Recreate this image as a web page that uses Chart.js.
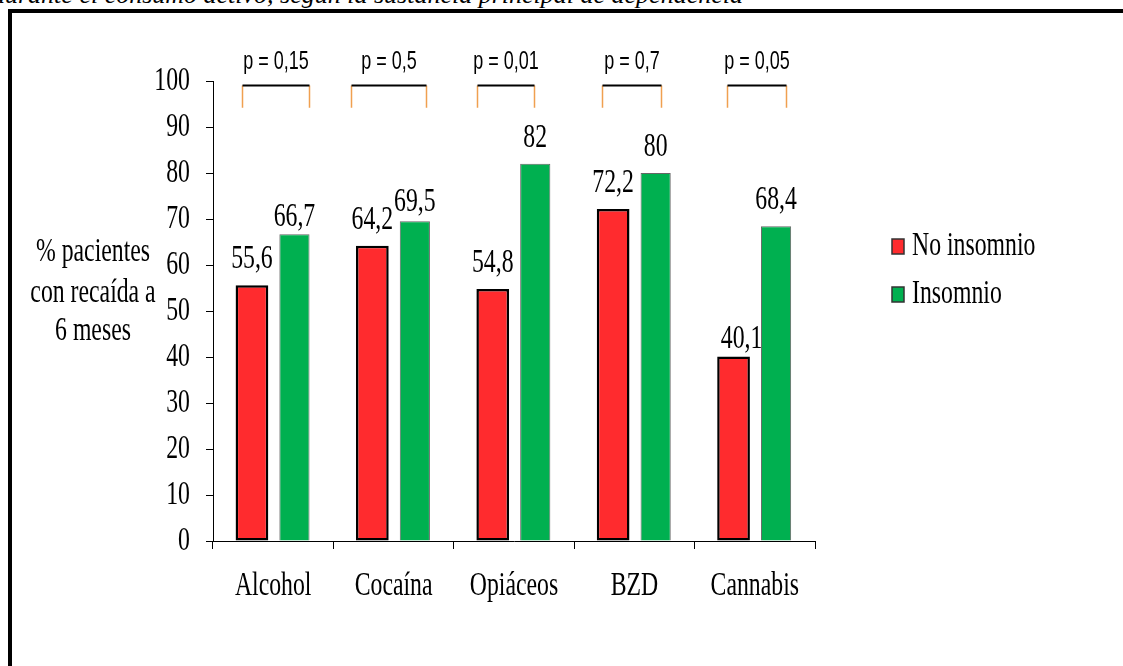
<!DOCTYPE html>
<html>
<head>
<meta charset="utf-8">
<script src="https://cdn.jsdelivr.net/npm/chart.js@4.4.1/dist/chart.umd.min.js"></script>
<style>
  body { margin: 0; width: 1123px; height: 666px; overflow: hidden; background: #fff; position: relative; }
  #caption { position: absolute; left: -8px; top: -20px; white-space: nowrap;
    font: italic 26px "Liberation Serif", serif; color: #000; }
  #frame { position: absolute; left: 8px; top: 9px; width: 1200px; height: 800px; border: 4px solid #000; }
  #chart { position: absolute; left: 0; top: 0; }
</style>
</head>
<body>
<div id="caption">durante el consumo activo, según la sustancia principal de dependencia</div>
<div id="frame"></div>
<canvas id="chart" width="1123" height="666"></canvas>
<script>
// categories and series
var categories = ["Alcohol", "Cocaína", "Opiáceos", "BZD", "Cannabis"];
var noInsomnio = [55.6, 64.2, 54.8, 72.2, 40.1];
var insomnio = [66.7, 69.5, 82, 80, 68.4];
var pValues = ["p = 0,15", "p = 0,5", "p = 0,01", "p = 0,7", "p = 0,05"];
var yTicks = [0, 10, 20, 30, 40, 50, 60, 70, 80, 90, 100];

// bracket ends over each pair, in category units from the category centre
var bracketLeft = [-0.26, -0.35, -0.31, -0.27, -0.23];
var bracketRight = [0.30, 0.27, 0.17, 0.22, 0.26];

// a few value labels were moved by hand (px, per series)
var labelDx = [[0, 0, 0, 0, 8], [0, 0, 0, 0, 0]];
var labelDy = [[0, 0, 0, 0, 8], [9, 7, 0, 0, 0]];

// the text in this chart is a narrow Times, so squeeze every fillText sideways
var squeeze = 0.72;
var plainFill = CanvasRenderingContext2D.prototype.fillText;
CanvasRenderingContext2D.prototype.fillText = function(text, x, y) {
  this.save();
  this.translate(x, y);
  this.scale(squeeze, 1);
  plainFill.call(this, text, 0, 0);
  this.restore();
};

function fmt(v) {
  return String(v).replace(".", ",");
}

// value labels, y title, legend and the p-value brackets
var extras = {
  id: "extras",
  afterDatasetsDraw: function(chart) {
    var ctx = chart.ctx;
    var x = chart.scales.x;
    var y = chart.scales.y;

    ctx.save();
    ctx.fillStyle = "#000";
    ctx.font = "33px 'Liberation Serif'";
    ctx.textAlign = "center";
    ctx.textBaseline = "alphabetic";
    chart.data.datasets.forEach(function(ds, i) {
      chart.getDatasetMeta(i).data.forEach(function(bar, j) {
        ctx.fillText(fmt(ds.data[j]), bar.x + labelDx[i][j], bar.y - 17 + labelDy[i][j]);
      });
    });

    // y axis title
    ctx.textBaseline = "middle";
    ctx.fillText("% pacientes", 93, 252);
    ctx.fillText("con recaída a", 93, 293);
    ctx.fillText("6 meses", 93, 331);

    // legend
    var legY = [246, 294];
    ctx.textAlign = "left";
    chart.data.datasets.forEach(function(ds, i) {
      ctx.fillStyle = ds.backgroundColor;
      ctx.fillRect(892, legY[i] - 7, 12, 15);
      ctx.strokeStyle = "#333";
      ctx.lineWidth = 1.5;
      ctx.strokeRect(892, legY[i] - 7, 12, 15);
      ctx.fillStyle = "#000";
      ctx.fillText(ds.label, 912, legY[i]);
    });

    // p-value brackets
    var top = y.getPixelForValue(99);
    var foot = y.getPixelForValue(94.2);
    ctx.font = "25px 'Liberation Sans'";
    ctx.textAlign = "center";
    ctx.textBaseline = "middle";
    for (var k = 0; k < pValues.length; k++) {
      var a = Math.round(x.getPixelForValue(k + bracketLeft[k])) + 0.5;
      var b = Math.round(x.getPixelForValue(k + bracketRight[k])) + 0.5;
      ctx.strokeStyle = "#F0A050";
      ctx.lineWidth = 1.5;
      ctx.beginPath();
      ctx.moveTo(a, top);
      ctx.lineTo(a, foot);
      ctx.moveTo(b, top);
      ctx.lineTo(b, foot);
      ctx.stroke();
      ctx.strokeStyle = "#000";
      ctx.lineWidth = 2;
      ctx.beginPath();
      ctx.moveTo(a, top);
      ctx.lineTo(b, top);
      ctx.stroke();
      ctx.fillText(pValues[k], (a + b) / 2, top - 23);
    }
    ctx.restore();
  }
};

var ctx = document.getElementById("chart").getContext("2d");
var chart = new Chart(ctx, {
  type: "bar",
  data: {
    labels: categories,
    datasets: [{
      label: "No insomnio",
      data: noInsomnio,
      backgroundColor: "#FF2B2E",
      borderColor: "#000",
      borderWidth: 2.5,
      borderSkipped: false,
      barPercentage: 0.77,
      categoryPercentage: 0.706
    }, {
      label: "Insomnio",
      data: insomnio,
      backgroundColor: "#00B050",
      borderColor: "#666",
      borderWidth: 1,
      barPercentage: 0.71,
      categoryPercentage: 0.706
    }]
  },
  options: {
    responsive: false,
    animation: false,
    layout: { padding: { left: 0, top: 81, right: 308, bottom: 0 } },
    plugins: { legend: { display: false }, tooltip: { enabled: false } },
    scales: {
      x: {
        afterFit: function(scale) { scale.height = 125; },
        border: { color: "#000", width: 1 },
        grid: { display: true, drawOnChartArea: false, drawTicks: true, tickLength: 8, color: "#000" },
        ticks: { color: "#000", font: { family: "Liberation Serif", size: 33 }, padding: 18,
          maxRotation: 0, minRotation: 0, autoSkip: false }
      },
      y: {
        min: 0,
        max: 100,
        afterFit: function(scale) { scale.width = 213; },
        afterBuildTicks: function(scale) {
          scale.ticks = yTicks.map(function(v) { return { value: v }; });
        },
        border: { color: "#000", width: 1 },
        grid: { display: true, drawOnChartArea: false, drawTicks: true, tickLength: 7, color: "#000" },
        ticks: { color: "#000", font: { family: "Liberation Serif", size: 33 }, padding: 16 }
      }
    }
  },
  plugins: [extras]
});
</script>
</body>
</html>
